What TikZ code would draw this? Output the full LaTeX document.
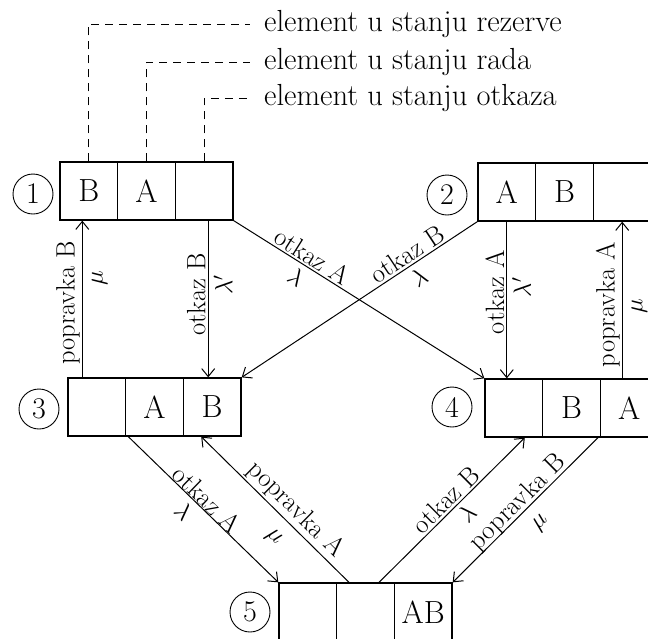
\documentclass[tikz,border=0pt]{standalone}
\usepackage{fontspec}
\usetikzlibrary{arrows.meta,calc}
\begin{document}
\begin{tikzpicture}[x=1pt,y=-1pt,
  >={Straight Barb[length=8pt,width=13pt]},
  cell/.style={draw, line width=1.3pt, minimum width=57.7pt, minimum height=58pt, inner sep=0pt, font=\fontsize{32}{32}\selectfont},
  num/.style={circle, draw, line width=0.9pt, minimum size=40pt, inner sep=0pt, font=\fontsize{30}{30}\selectfont},
  lab/.style={font=\fontsize{26.5}{26.5}\selectfont, inner sep=2pt},
  gr/.style={font=\fontsize{26.5}{26.5}\selectfont, inner sep=5pt},
  gm/.style={font=\fontsize{26.5}{26.5}\selectfont, inner sep=9pt},
  legend/.style={font=\fontsize{30.5}{30.5}\selectfont, inner sep=0pt, anchor=west},
  arr/.style={line width=1pt},
  dsh/.style={line width=1pt, dash pattern=on 8pt off 6pt},
]
\useasboundingbox (0,0) rectangle (648,638);
\clip (0,0) rectangle (648,638);

% legend
\node[legend] (t1) at (264,24) {element u stanju rezerve};
\node[legend] (t2) at (264,62) {element u stanju rada};
\node[legend] (t3) at (264,98) {element u stanju otkaza};

% box 1
\node[cell] (c11) at (88.8,191) {B};
\node[cell] (c12) at (146.5,191) {A};
\node[cell] (c13) at (204.2,191) {};
\node[num] (n1) at (33,194) {1};
% box 2
\node[cell] (c21) at (506.8,192) {A};
\node[cell] (c22) at (564.5,192) {B};
\node[cell] (c23) at (622.2,192) {};
\node[num] (n2) at (447,195) {2};
% box 3
\node[cell] (c31) at (96.8,407) {};
\node[cell] (c32) at (154.5,407) {A};
\node[cell] (c33) at (212.2,407) {B};
\node[num] (n3) at (39,409) {3};
% box 4
\node[cell] (c41) at (513.8,408) {};
\node[cell] (c42) at (571.5,408) {B};
\node[cell] (c43) at (629.2,408) {A};
\node[num] (n4) at (452,407) {4};
% box 5
\node[cell] (c51) at (307.8,612) {};
\node[cell] (c52) at (365.5,612) {};
\node[cell] (c53) at (423.2,612) {AB};
\node[num] (n5) at (250,612) {5};

% legend leaders
\draw[dsh] (c11.north) |- ([xshift=-14pt]t1.west);
\draw[dsh] (c12.north) |- ([xshift=-14pt]t2.west);
\draw[dsh] (c13.north) |- ([xshift=-14pt]t3.west);

% left verticals
\coordinate (a1) at ([xshift=23pt]c11.south west);
\draw[arr,<-] (a1) -- node[pos=0.525, rotate=90, anchor=south, lab] {popravka B}
                     node[pos=0.37, rotate=90, anchor=north, gm] {$\mu$} (a1 |- c31.north);
\coordinate (a2) at ([xshift=4pt]c13.south);
\draw[arr,->] (a2) -- node[pos=0.47, rotate=90, anchor=south, lab] {otkaz B}
                     node[pos=0.41, rotate=90, anchor=north, gr] {$\lambda'$} (a2 |- c33.north);

% right verticals
\draw[arr,->] (c21.south) -- node[pos=0.45, rotate=90, anchor=south, lab] {otkaz A}
                     node[pos=0.42, rotate=90, anchor=north, gr] {$\lambda'$} (c21.south |- c41.north);
\draw[arr,<-] (c23.south) -- node[pos=0.53, rotate=90, anchor=south, lab] {popravka A}
                     node[pos=0.54, rotate=90, anchor=north, gm] {$\mu$} (c23.south |- c43.north);

% crossing diagonals
\draw[arr,->] (c13.south east) -- node[pos=0.29, sloped, above, lab] {otkaz A}
                     node[pos=0.28, sloped, below=3pt, lab] {$\lambda$} (c41.north west);
\draw[arr,<-] (c33.north east) -- node[pos=0.73, sloped, above, lab] {otkaz B}
                     node[pos=0.72, sloped, below=3pt, lab] {$\lambda$} (c21.south west);

% lower diagonals
\draw[arr,->] ([xshift=2pt]c31.south east) -- node[pos=0.48, sloped, above=-2pt, lab] {otkaz A}
                     node[pos=0.44, sloped, below=4pt, lab] {$\lambda$} (c51.north west);
\draw[arr,<-] ([xshift=-11pt]c33.south) -- node[pos=0.57, sloped, above, lab] {popravka A}
                     node[pos=0.59, sloped, below=11pt, lab] {$\mu$} ([xshift=-16.5pt]c52.north);
\draw[arr,->] ([xshift=13.5pt]c52.north) -- node[pos=0.515, sloped, above, lab] {otkaz B}
                     node[pos=0.54, sloped, below=2pt, lab] {$\lambda$} ([xshift=11pt]c41.south);
\draw[arr,<-] (c53.north east) -- node[pos=0.50, sloped, above=-4pt, lab] {popravka B}
                     node[pos=0.51, sloped, below=10pt, lab] {$\mu$} ([xshift=-3pt]c42.south east);
\end{tikzpicture}
\end{document}
